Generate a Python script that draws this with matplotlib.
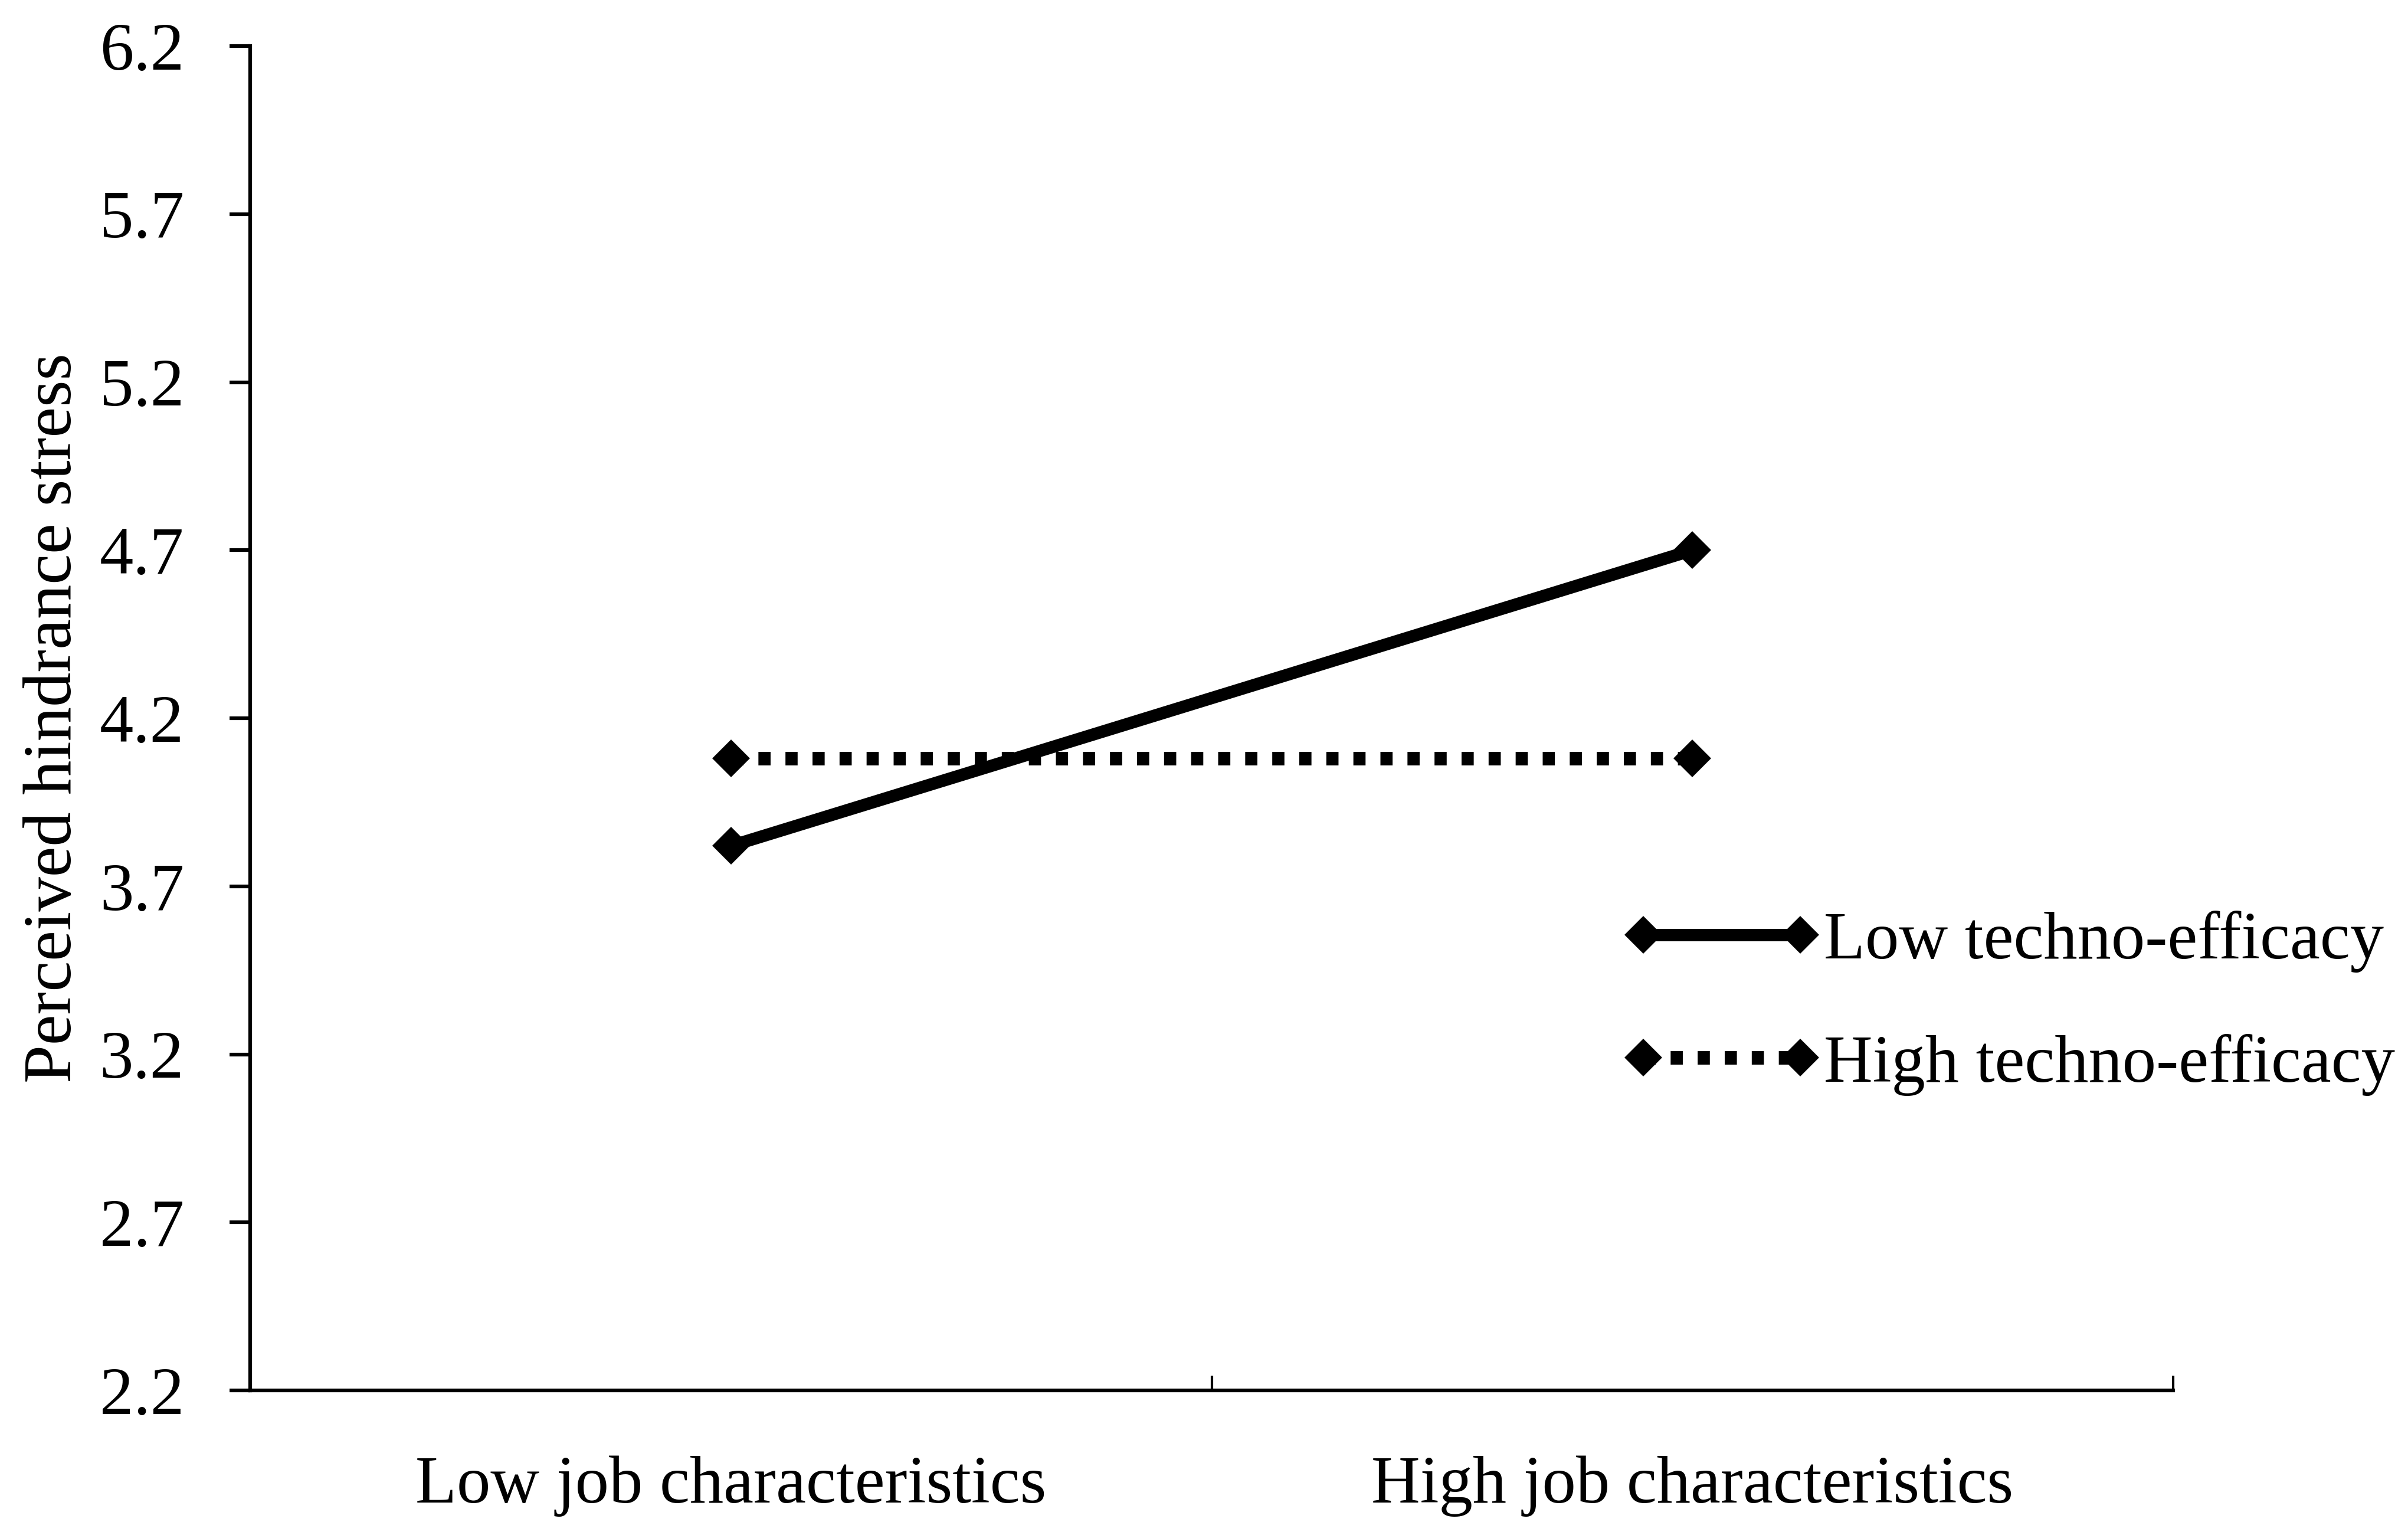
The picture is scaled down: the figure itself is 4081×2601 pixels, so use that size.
import matplotlib
matplotlib.use("Agg")
import matplotlib.pyplot as plt
import numpy as np

plt.rcParams['font.family'] = ['Liberation Serif', 'DejaVu Serif']

categories = ["Low job characteristics", "High job characteristics"]
series_names = ["Low techno-efficacy", "High techno-efficacy"]
low_efficacy = [3.82, 4.70]
high_efficacy = [4.08, 4.08]
y_ticks = [2.2, 2.7, 3.2, 3.7, 4.2, 4.7, 5.2, 5.7, 6.2]
y_label = "Perceived hindrance stress"

W, H, DPI = 4081, 2601, 300
fig = plt.figure(figsize=(W / DPI, H / DPI), dpi=DPI)
ax = fig.add_axes([424 / W, 1 - 2356 / H, (3683 - 424) / W, (2356 - 78) / H])

FS = 27.5
x = np.arange(len(categories))
ax.plot(x, low_efficacy, color='black', lw=5, marker='D', ms=10,
        solid_capstyle='butt', label=series_names[0], zorder=3)
ax.plot(x, high_efficacy, color='black', lw=5.5, marker='D', ms=10,
        linestyle=(0, (0.9, 1.1)), dash_capstyle='butt',
        label=series_names[1], zorder=2)

ax.set_xlim(-0.5, 1.5)
ax.set_ylim(y_ticks[0], y_ticks[-1])
ax.set_yticks(y_ticks)
ax.set_yticklabels([f"{v:.1f}" for v in y_ticks], fontsize=FS)
ax.set_xticks(x)
ax.set_xticklabels(categories, fontsize=FS)
ax.set_xticks([0.5, 1.5], minor=True)

for s in ['top', 'right']:
    ax.spines[s].set_visible(False)
for s in ['left', 'bottom']:
    ax.spines[s].set_linewidth(1.5)

ax.tick_params(axis='y', which='major', direction='out', length=8.4, width=1.5, pad=18.5)
ax.tick_params(axis='x', which='major', length=0, pad=26.5)
ax.tick_params(axis='x', which='minor', direction='in', length=6, width=1.0)

ax.set_ylabel(y_label, fontsize=FS + 0.5, va='center')
ax.yaxis.set_label_coords((92 - 424) / (3683 - 424), 0.5)

fig.legend(loc='center left', bbox_to_anchor=(2751 / W, 1 - 1700 / H),
           frameon=False, fontsize=FS, numpoints=2, handlelength=2.92,
           handletextpad=0.05, labelspacing=0.9, borderpad=0, borderaxespad=0)

fig.savefig("out.png", dpi=DPI, facecolor='white')
